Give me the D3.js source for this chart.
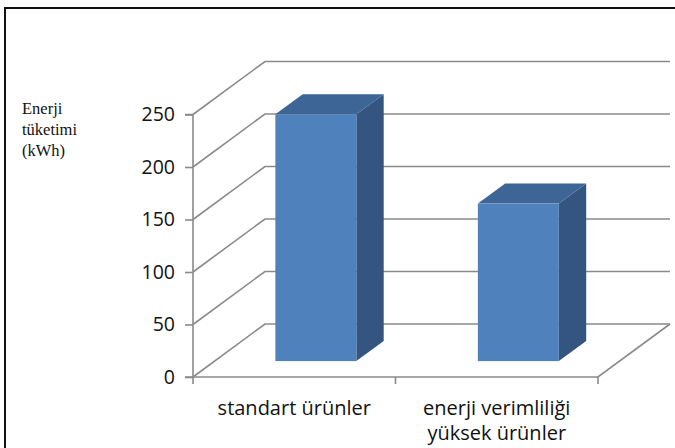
<!DOCTYPE html>
<html>
<head>
<meta charset="utf-8">
<script src="https://cdn.jsdelivr.net/npm/d3@7/dist/d3.min.js"></script>
<style>
  html, body { margin: 0; padding: 0; background: #fff; }
  svg { display: block; }
</style>
</head>
<body>
<svg id="chart" width="675" height="448"></svg>
<script>
// Energy consumption of standard vs. energy-efficient products
const categories = ["standart ürünler", "enerji verimliliği yüksek ürünler"];
const categoryLines = [["standart ürünler"], ["enerji verimliliği", "yüksek ürünler"]];
const values = [235, 150];
const tickValues = [0, 50, 100, 150, 200, 250];
const axisTitle = ["Enerji", "tüketimi", "(kWh)"];

const svg = d3.select("#chart");
const W = 675, H = 448;

// Plot frame (front plane) and oblique depth vector for the 3D look
const plotLeft = 193, plotRight = 598, plotBottom = 377, plotTop = 114.5;
const depth = { dx: 72, dy: -53 };
const barZ0 = 0.30, barZ1 = 0.68;   // bar front / back as fraction of depth
const barFrac = 0.4;                // bar width relative to category band

const x = d3.scaleBand().domain(categories).range([plotLeft, plotRight]).padding(0);
const y = d3.scaleLinear().domain([0, 250]).range([plotBottom, plotTop]);

const off = z => [depth.dx * z, depth.dy * z];
const gridColor = "#8a8a8a";

// Outer frame (only top and left edges fall inside the view)
svg.append("rect")
  .attr("x", 5).attr("y", 8).attr("width", W + 20).attr("height", H + 20)
  .attr("fill", "none").attr("stroke", "#111").attr("stroke-width", 2);

// Side wall diagonals and back wall gridlines
const grid = svg.append("g").attr("fill", "none").attr("stroke", gridColor).attr("stroke-width", 1.6);
const [bdx, bdy] = off(1);
tickValues.forEach(v => {
  const yy = y(v);
  grid.append("path")
    .attr("d", d3.line()([[plotLeft, yy], [plotLeft + bdx, yy + bdy], [plotRight + bdx, yy + bdy]]));
});

// Floor outline: front edge and right edge
grid.append("path")
  .attr("d", d3.line()([[plotLeft, plotBottom], [plotRight, plotBottom], [plotRight + bdx, plotBottom + bdy]]));

// Vertical value axis
const yAxis = d3.axisLeft(y).tickValues(tickValues).tickSize(8).tickPadding(10).tickFormat(d3.format("d"));
const gy = svg.append("g").attr("transform", `translate(${plotLeft},0)`).call(yAxis);
gy.select(".domain").attr("stroke", gridColor).attr("stroke-width", 1.6).attr("d", `M-8,${plotTop}H0V${plotBottom}H-8`);
gy.selectAll(".tick line").attr("stroke", gridColor).attr("stroke-width", 1.6);
gy.selectAll(".tick text")
  .attr("fill", "#111")
  .attr("font-family", "'Open Sans', 'Liberation Sans', sans-serif")
  .attr("font-size", 19.5);

// Category axis ticks (band boundaries)
const boundaries = [plotLeft, ...categories.map(c => x(c) + x.bandwidth())];
svg.append("g").selectAll("line").data(boundaries).join("line")
  .attr("x1", d => d).attr("x2", d => d)
  .attr("y1", plotBottom).attr("y2", plotBottom + 7)
  .attr("stroke", gridColor).attr("stroke-width", 1.6);

// Category labels
const labels = svg.append("g")
  .attr("font-family", "'Open Sans', 'Liberation Sans', sans-serif")
  .attr("font-size", 20)
  .attr("fill", "#111")
  .attr("text-anchor", "middle");
categories.forEach((c, i) => {
  const cx = x(c) + x.bandwidth() / 2;
  const t = labels.append("text").attr("x", cx).attr("y", 415);
  categoryLines[i].forEach((line, j) => {
    t.append("tspan").attr("x", cx).attr("dy", j === 0 ? 0 : 25).text(line);
  });
});

// 3D bars: right side, top, front face
const bars = svg.append("g");
categories.forEach((c, i) => {
  const w = x.bandwidth() * barFrac;
  const x0 = x(c) + (x.bandwidth() - w) / 2;
  const [fx, fy] = off(barZ0);
  const [kx, ky] = off(barZ1);
  const xl = x0 + fx, xr = x0 + w + fx;
  const yb = y(0) + fy, yt = y(values[i]) + fy;
  const sx = kx - fx, sy = ky - fy;
  bars.append("path")
    .attr("d", d3.line()([[xr, yb], [xr, yt], [xr + sx, yt + sy], [xr + sx, yb + sy]]) + "Z")
    .attr("fill", "#34557f");
  bars.append("path")
    .attr("d", d3.line()([[xl, yt], [xr, yt], [xr + sx, yt + sy], [xl + sx, yt + sy]]) + "Z")
    .attr("fill", "#3d6596");
  bars.append("rect")
    .attr("x", xl).attr("y", yt).attr("width", w).attr("height", yb - yt)
    .attr("fill", "#4f81bd");
});

// Vertical axis title
const title = svg.append("text")
  .attr("x", 22).attr("y", 114)
  .attr("font-family", "'Liberation Serif', 'Times New Roman', serif")
  .attr("font-size", 16.5)
  .attr("fill", "#111");
axisTitle.forEach((line, j) => {
  title.append("tspan").attr("x", 22).attr("dy", j === 0 ? 0 : 21).text(line);
});
</script>
</body>
</html>
